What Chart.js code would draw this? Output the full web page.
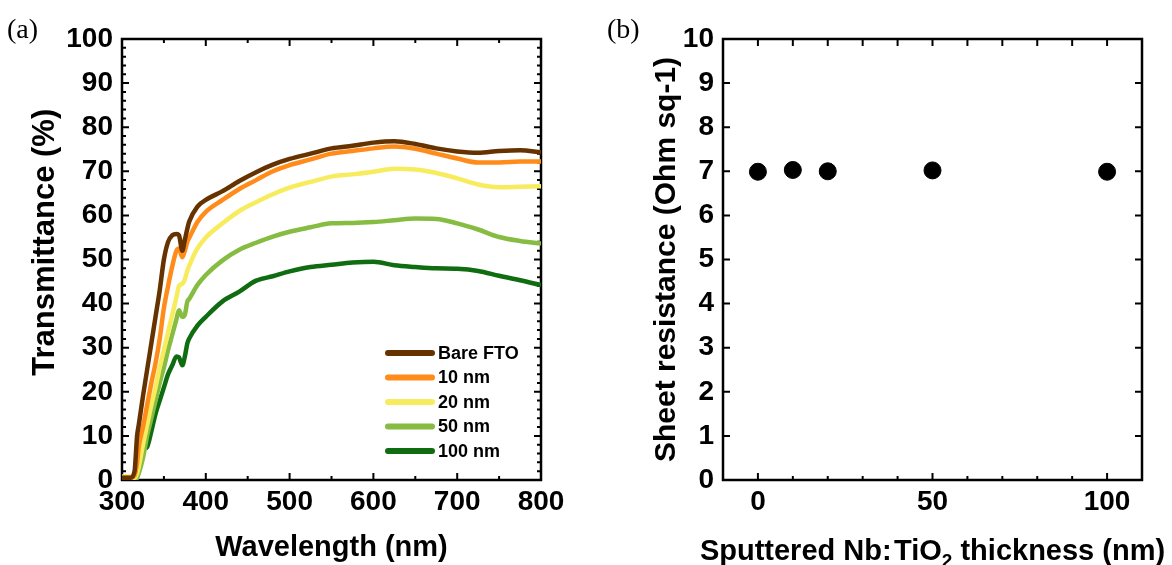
<!DOCTYPE html>
<html>
<head>
<meta charset="utf-8">
<script src="https://cdn.jsdelivr.net/npm/chart.js@4"></script>
<style>
  html, body { margin: 0; padding: 0; background: #fff; }
  body { width: 1172px; height: 565px; position: relative; overflow: hidden; }
  .panel { position: absolute; top: 0; width: 586px; height: 565px; }
  .tag { position: absolute; font-family: 'Liberation Serif', 'Times New Roman', serif; font-size: 28px; color: #000; line-height: 1; }
</style>
</head>
<body>
<div class="panel" style="left:0"><canvas id="transChart"></canvas></div>
<div class="panel" style="left:586px"><canvas id="sheetChart"></canvas></div>
<div class="tag" style="left:7px; top:15px">(a)</div>
<div class="tag" style="left:607px; top:15px">(b)</div>
<script>
// --- Data: (a) transmittance spectra ---
const wavelength = [300, 310, 315, 318, 320, 325, 330, 335, 340, 345, 350, 355, 360, 365, 368, 372, 375, 378, 380,
  390, 400, 420, 440, 460, 480, 500, 525, 550, 575, 600, 625, 650, 675, 700, 725, 750, 775, 800];
const bareFTO = [0.5, 0.5, 2, 10, 12.5, 19, 25, 31, 37, 43, 50, 54, 55.5, 55.8, 55.5, 52, 54.5, 57, 58.5,
  62, 63.5, 65.5, 67.8, 69.8, 71.5, 72.8, 74, 75.2, 75.8, 76.5, 76.8, 76.2, 75.2, 74.5, 74.2, 74.6, 74.8, 74.3];
const nm10 = [0.5, 0.5, 1, 4, 7.5, 12, 17, 22, 26.5, 32, 39, 44, 48.5, 52, 52.5, 50.5, 52, 54, 54.8,
  58.5, 60.8, 63.5, 66, 68, 70, 71.4, 72.7, 74, 74.6, 75.2, 75.6, 75.1, 74, 72.9, 72, 72, 72.2, 72.2];
const nm20 = [0.8, 0.8, 0.5, 1.5, 3, 8, 12.5, 17, 21, 25.5, 29.5, 33.5, 37.5, 41.5, 44, 44.5, 45.5, 47.5, 48.5,
  52.5, 55, 58.2, 61, 63, 64.8, 66.3, 67.6, 68.8, 69.3, 69.9, 70.6, 70.4, 69.6, 68.4, 67, 66.4, 66.5, 66.6];
const nm50 = [0.5, 0.5, 0, 0.5, 1.5, 5, 10, 14, 18, 22, 25.5, 29.5, 33, 36.5, 38.5, 37, 37.5, 40.5, 41,
  44.2, 46.5, 49.8, 52.2, 53.8, 55.2, 56.3, 57.3, 58.2, 58.3, 58.5, 58.9, 59.3, 59.2, 58.2, 56.8, 55.1, 54.2, 53.6];
const nm100 = [0.5, 0.5, 0, 4, 6.5, 7, 7.5, 11, 15, 18, 21, 24, 26, 28, 27.8, 26, 28, 31, 32,
  35, 37, 40.5, 42.7, 45.2, 46.2, 47.3, 48.3, 48.8, 49.3, 49.5, 48.7, 48.3, 48, 47.9, 47.4, 46.3, 45.3, 44.2];
const seriesLabels = ['Bare FTO', '10 nm', '20 nm', '50 nm', '100 nm'];
const seriesColors = ['#663300', '#ff8c1a', '#f7ec5e', '#86bc42', '#106c10'];
const waveTicks = [300, 400, 500, 600, 700, 800];
const transTicks = [0, 10, 20, 30, 40, 50, 60, 70, 80, 90, 100];

// --- Data: (b) sheet resistance ---
const thickness = [0, 10, 20, 50, 100];
const sheetRes = [6.99, 7.03, 7.0, 7.02, 6.99];
const thickTicks = [0, 50, 100];
const resTicks = [0, 1, 2, 3, 4, 5, 6, 7, 8, 9, 10];

const FONT = "'Liberation Sans', Arial, sans-serif";

// --- Frame with inward ticks on all four sides ---
const frameTicks = {
  id: 'frameTicks',
  beforeDatasetsDraw(chart, args, o) {
    const { ctx, chartArea: a, scales: { x, y } } = chart;
    ctx.save();
    ctx.strokeStyle = '#000';
    ctx.lineWidth = 2.5;
    ctx.strokeRect(a.left, a.top, a.right - a.left, a.bottom - a.top);
    ctx.lineWidth = 2;
    ctx.beginPath();
    const xTick = (v, lb, lt) => {
      const px = x.getPixelForValue(v);
      ctx.moveTo(px, a.bottom); ctx.lineTo(px, a.bottom - lb);
      ctx.moveTo(px, a.top); ctx.lineTo(px, a.top + lt);
    };
    const yTick = (v, len) => {
      const py = y.getPixelForValue(v);
      ctx.moveTo(a.left, py); ctx.lineTo(a.left + len, py);
      ctx.moveTo(a.right, py); ctx.lineTo(a.right - len, py);
    };
    for (let v = x.min; v <= x.max + 1e-9; v += o.xMinor) {
      const major = x.ticks.some(t => Math.abs(t.value - v) < 1e-6);
      xTick(v, major ? 7 : 4, major ? 7 : o.topMinor);
    }
    if (o.yMinor) {
      for (let v = y.min; v <= y.max + 1e-9; v += o.yMinor) yTick(v, 4);
    }
    y.ticks.forEach(t => yTick(t.value, 7));
    ctx.stroke();
    ctx.restore();
  }
};

// --- In-plot legend for panel (a) ---
const lineLegend = {
  id: 'lineLegend',
  afterDatasetsDraw(chart) {
    const { ctx, chartArea: a } = chart;
    ctx.save();
    ctx.font = 'bold 18px ' + FONT;
    ctx.textBaseline = 'middle';
    ctx.lineCap = 'round';
    chart.data.datasets.forEach((ds, i) => {
      const yy = a.top + 314 + i * 24.5;
      const x0 = a.left + 266;
      ctx.strokeStyle = ds.borderColor;
      ctx.lineWidth = 6;
      ctx.beginPath(); ctx.moveTo(x0, yy); ctx.lineTo(x0 + 44, yy); ctx.stroke();
      ctx.fillStyle = '#000';
      ctx.fillText(ds.label, x0 + 50, yy + 1);
    });
    ctx.restore();
  }
};

// --- x title with a real subscript, allowed to run wider than the plot ---
const subTitle = {
  id: 'subTitle',
  afterDraw(chart, args, o) {
    const { ctx, chartArea: a } = chart;
    const big = 'bold 29px ' + FONT, small = 'bold 19px ' + FONT;
    ctx.save();
    ctx.fillStyle = '#000';
    ctx.textBaseline = 'alphabetic';
    ctx.font = big;
    const w1 = ctx.measureText(o.before).width, w3 = ctx.measureText(o.after).width;
    ctx.font = small;
    const w2 = ctx.measureText(o.sub).width;
    let x0 = (a.left + a.right) / 2 - (w1 + w2 + w3) / 2;
    const base = o.baseline;
    ctx.font = big; ctx.fillText(o.before, x0, base); x0 += w1;
    ctx.font = small; ctx.fillText(o.sub, x0, base + 7); x0 += w2;
    ctx.font = big; ctx.fillText(o.after, x0, base);
    ctx.restore();
  }
};

function axisCommon(ticksArr, title, titleSize, titlePad) {
  return {
    type: 'linear',
    grid: { display: false, drawTicks: false },
    border: { display: false },
    afterBuildTicks: s => { s.ticks = ticksArr.map(v => ({ value: v })); },
    title: { display: true, text: title, color: '#000', font: { family: FONT, size: titleSize, weight: 'bold', lineHeight: 1.2 }, padding: titlePad },
    ticks: { color: '#000', font: { family: FONT, size: 28, weight: 'bold' } }
  };
}

// --- Chart (a) ---
const transSeries = [bareFTO, nm10, nm20, nm50, nm100];
const tx = axisCommon(waveTicks, 'Wavelength (nm)', 29, { top: 0, bottom: 0 });
tx.min = 300; tx.max = 800; tx.ticks.padding = 5; tx.ticks.maxRotation = 0;
tx.afterFit = s => { s.height = 85; };
// leading spaces lift the rotated title a little, as in the original
const ty = axisCommon(transTicks, '    Transmittance (%)', 31, { top: 27, bottom: 0 });
ty.min = 0; ty.max = 100; ty.ticks.padding = 9;
ty.afterFit = s => { s.width = 122; };

new Chart(document.getElementById('transChart'), {
  type: 'line',
  data: {
    datasets: transSeries.map((vals, i) => ({
      label: seriesLabels[i],
      data: wavelength.map((w, j) => ({ x: w, y: vals[j] })),
      borderColor: seriesColors[i],
      backgroundColor: seriesColors[i],
      borderWidth: 4.5,
      pointRadius: 0,
      cubicInterpolationMode: 'monotone'
    }))
  },
  options: {
    responsive: true,
    maintainAspectRatio: false,
    animation: false,
    layout: { padding: { left: 0, top: 39, right: 45, bottom: 0 } },
    scales: { x: tx, y: ty },
    plugins: { legend: { display: false }, tooltip: { enabled: false }, frameTicks: { xMinor: 50, yMinor: 2, topMinor: 4 } }
  },
  plugins: [frameTicks, lineLegend]
});

// --- Chart (b) ---
const sx = axisCommon(thickTicks, '', 29, { top: 0, bottom: 0 });
sx.title.display = false;
sx.min = -10; sx.max = 110; sx.ticks.padding = 5; sx.ticks.maxRotation = 0;
sx.afterFit = s => { s.height = 85; };
const sy = axisCommon(resTicks, 'Sheet resistance (Ohm sq-1)', 30, { top: 63, bottom: 0 });
sy.min = 0; sy.max = 10; sy.ticks.padding = 9;
sy.afterFit = s => { s.width = 137; };

new Chart(document.getElementById('sheetChart'), {
  type: 'scatter',
  data: {
    datasets: [{
      label: 'Sheet resistance',
      data: thickness.map((t, i) => ({ x: t, y: sheetRes[i] })),
      backgroundColor: '#000',
      borderColor: '#000',
      pointRadius: 8.5,
      showLine: false
    }]
  },
  options: {
    responsive: true,
    maintainAspectRatio: false,
    animation: false,
    layout: { padding: { left: 0, top: 39, right: 30, bottom: 0 } },
    scales: { x: sx, y: sy },
    plugins: {
      legend: { display: false }, tooltip: { enabled: false },
      frameTicks: { xMinor: 10, yMinor: 0, topMinor: 7 },
      subTitle: { before: 'Sputtered Nb:\u200aTiO', sub: '2', after: ' thickness (nm)', baseline: 560 }
    }
  },
  plugins: [frameTicks, subTitle]
});
</script>
</body>
</html>
